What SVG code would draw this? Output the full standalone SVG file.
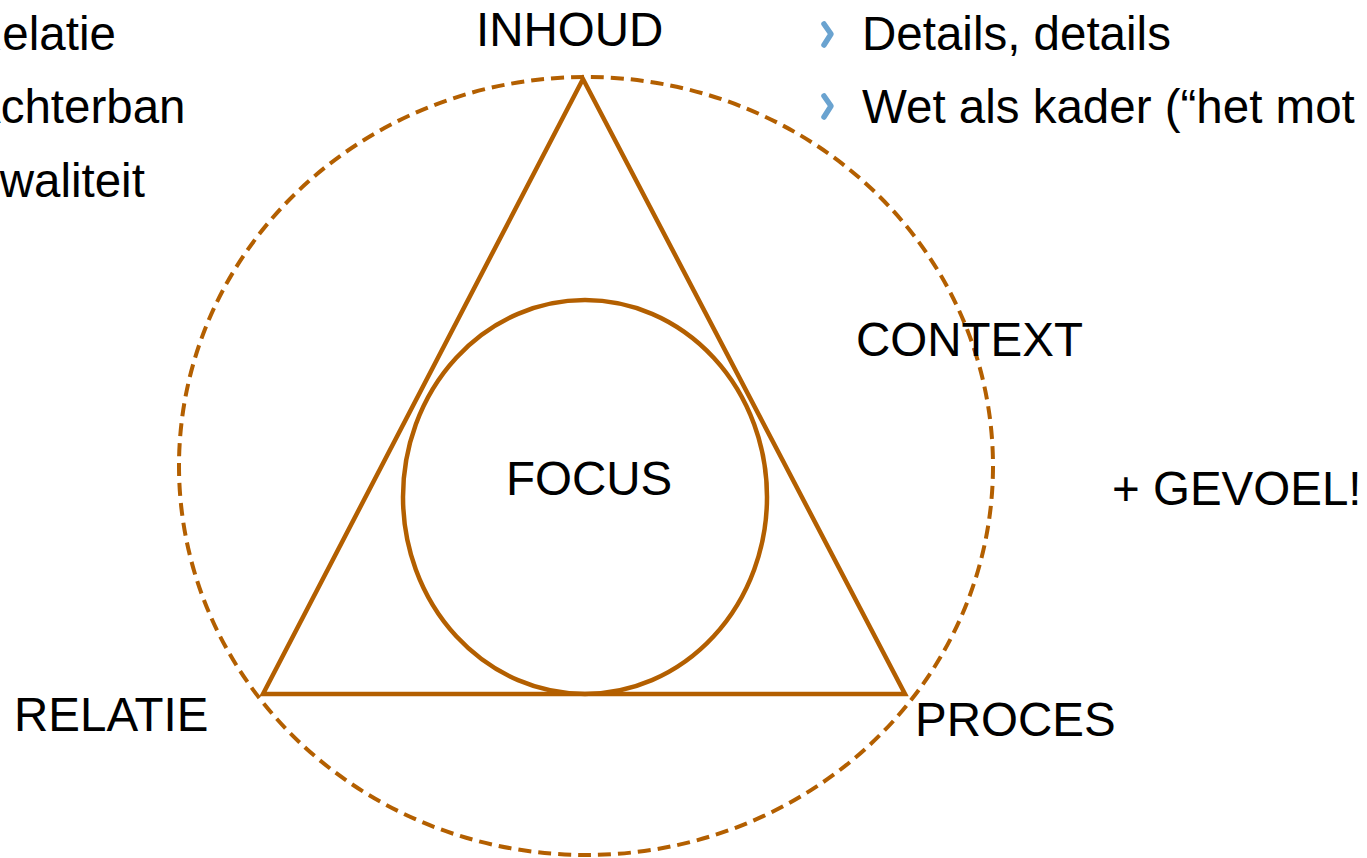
<svg xmlns="http://www.w3.org/2000/svg" width="1367" height="858" viewBox="0 0 1367 858">
<style>
.t{font-family:"Liberation Sans",Arial,sans-serif;font-size:47.5px;fill:#000}
.o{fill:none;stroke:#B35F00;stroke-width:4.5}
.d{fill:none;stroke:#B35F00;stroke-width:4;stroke-dasharray:13 7}
.b{fill:none;stroke:#6AA3D0;stroke-width:5.5;stroke-linecap:round;stroke-linejoin:round}
</style>
<rect width="1367" height="858" fill="#fff"/>
<g id="bullets-left">
<text class="t" x="-32" y="50">Relatie</text>
<text class="t" x="-31" y="123">Achterban</text>
<text class="t" x="-32" y="197">Kwaliteit</text>
</g>
<g id="bullets-right">
<polyline class="b" points="824,24 831,34 824,45"/>
<text class="t" x="862" y="50">Details, details</text>
<polyline class="b" points="824,96 831,106 824,117"/>
<text class="t" x="862" y="123">Wet als kader (“het mot</text>
</g>
<g id="context">
<ellipse class="d" cx="586" cy="466" rx="407" ry="389"/>
<text class="t" x="856" y="356">CONTEXT</text>
</g>
<g id="triangle">
<polygon class="o" points="583,79 263,694 905,694"/>
</g>
<g id="focus">
<ellipse class="o" cx="585" cy="497" rx="182" ry="197"/>
<text class="t" x="506" y="495">FOCUS</text>
</g>
<g id="inhoud"><text class="t" x="476" y="46">INHOUD</text></g>
<g id="relatie"><text class="t" x="14" y="731">RELATIE</text></g>
<g id="proces"><text class="t" x="915" y="736">PROCES</text></g>
<g id="gevoel"><text class="t" x="1112" y="505">+ GEVOEL!</text></g>
<g id="connectors"></g>
</svg>
